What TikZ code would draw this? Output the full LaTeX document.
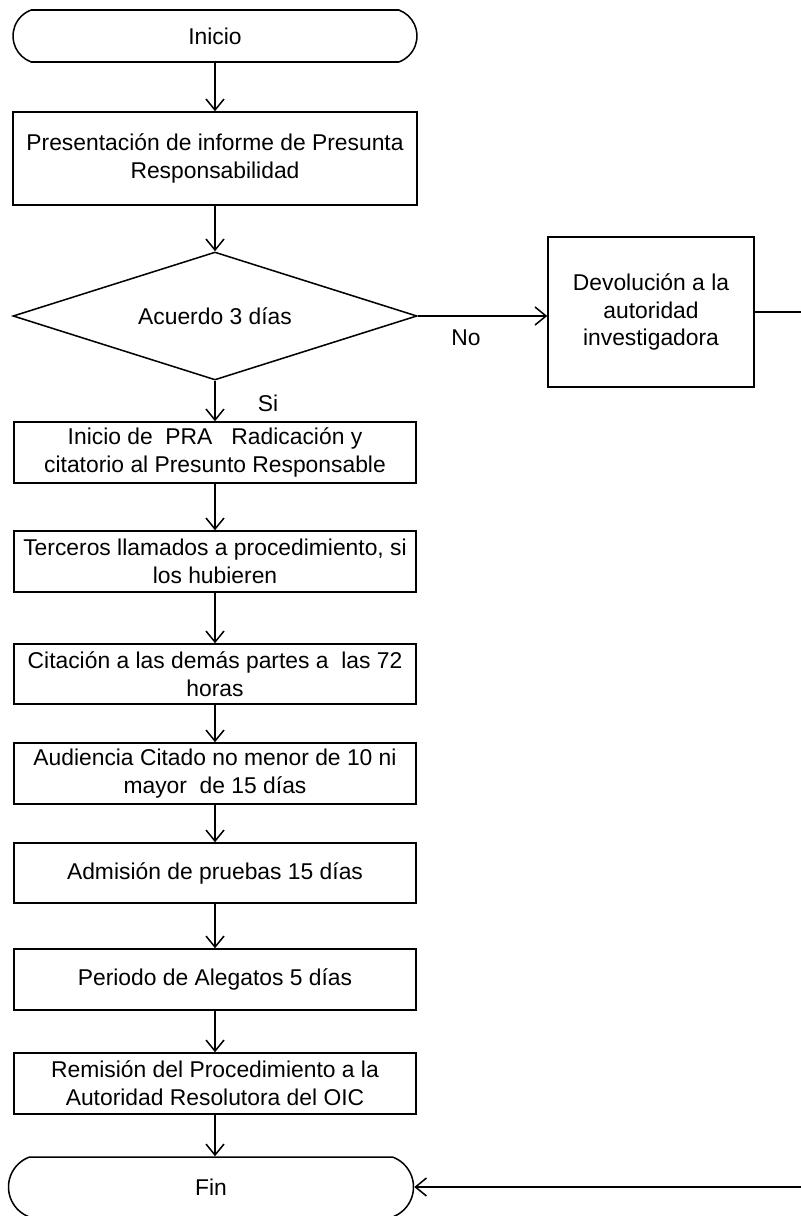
\documentclass[tikz,border=0pt]{standalone}
\usepackage{fontspec}
\setmainfont{Liberation Sans}
\usetikzlibrary{shapes.geometric,shapes.misc,arrows.meta}

\begin{document}
\begin{tikzpicture}[x=0.03cm, y=-0.03cm,
  sz/.style 2 args={minimum width=#1*0.03cm, minimum height=#2*0.03cm},
  txt/.style={font=\fontsize{19.5}{23.8}\selectfont, align=center},
  stepbox/.style={draw, rectangle, line width=1.3pt, inner sep=0pt, txt},
  terminal/.style={draw, rounded rectangle, rounded rectangle arc length=140,
                   line width=1.3pt, inner sep=0pt, txt},
  decision/.style={draw, diamond, aspect=3.16, line width=1.3pt, inner sep=0pt, txt},
  flow/.style={line width=1.3pt, -{Straight Barb[length=3.3mm, width=5.4mm]}},
  lbl/.style={txt}
]
\useasboundingbox (0,0) rectangle (800,1216);
\fill[white] (0,0) rectangle (800,1216);

% main column
\node[terminal, sz={404}{52}] (inicio) at (215,36) {Inicio};
\node[stepbox, sz={404}{93}] (b1) at (215,158.5)
  {Presentación de informe de Presunta\\Responsabilidad};
\node[decision, sz={404}{128}] (dec) at (215,316) {Acuerdo 3 días};
\node[stepbox, sz={206}{150}] (dev) at (651,312)
  {Devolución a la\\autoridad\\investigadora};
\node[stepbox, sz={402}{61}] (pra) at (215,452.5)
  {Inicio de~ PRA~~ Radicación y\\citatorio al Presunto Responsable};
\node[stepbox, sz={402}{61}] (ter) at (215,561.5)
  {Terceros llamados a procedimiento, si\\los hubieren};
\node[stepbox, sz={402}{60}] (cit) at (215,674)
  {Citación a las demás partes a~ las 72\\horas};
\node[stepbox, sz={402}{61}] (aud) at (215,773.5)
  {Audiencia Citado no menor de 10 ni\\mayor~ de 15 días};
\node[stepbox, sz={402}{60}] (adm) at (215,873) {Admisión de pruebas 15 días};
\node[stepbox, sz={402}{61}] (per) at (215,979.5) {Periodo de Alegatos 5 días};
\node[stepbox, sz={402}{61}] (rem) at (215,1083.5)
  {Remisión del Procedimiento a la\\Autoridad Resolutora del OIC};
\node[terminal, sz={405}{60}] (fin) at (211,1187) {Fin};

% branch labels
\node[lbl] (lno) at (466,338) {No};
\node[lbl] (lsi) at (268,403) {Si};

% connectors
\coordinate (rt) at (815,0);
\draw[flow] (inicio) -- (b1);
\draw[flow] (b1) -- (dec);
\draw[flow] (dec.east) -- (dec.east -| dev.west);
\draw[flow] (dec) -- (pra);
\draw[flow] (pra) -- (ter);
\draw[flow] (ter) -- (cit);
\draw[flow] (cit) -- (aud);
\draw[flow] (aud) -- (adm);
\draw[flow] (adm) -- (per);
\draw[flow] (per) -- (rem);
\draw[flow] (rem.south) -- (rem.south |- fin.north);
\draw[flow] (dev.east) -- (dev.east -| rt) -- (fin.east -| rt) -- (fin.east);
\end{tikzpicture}
\end{document}
